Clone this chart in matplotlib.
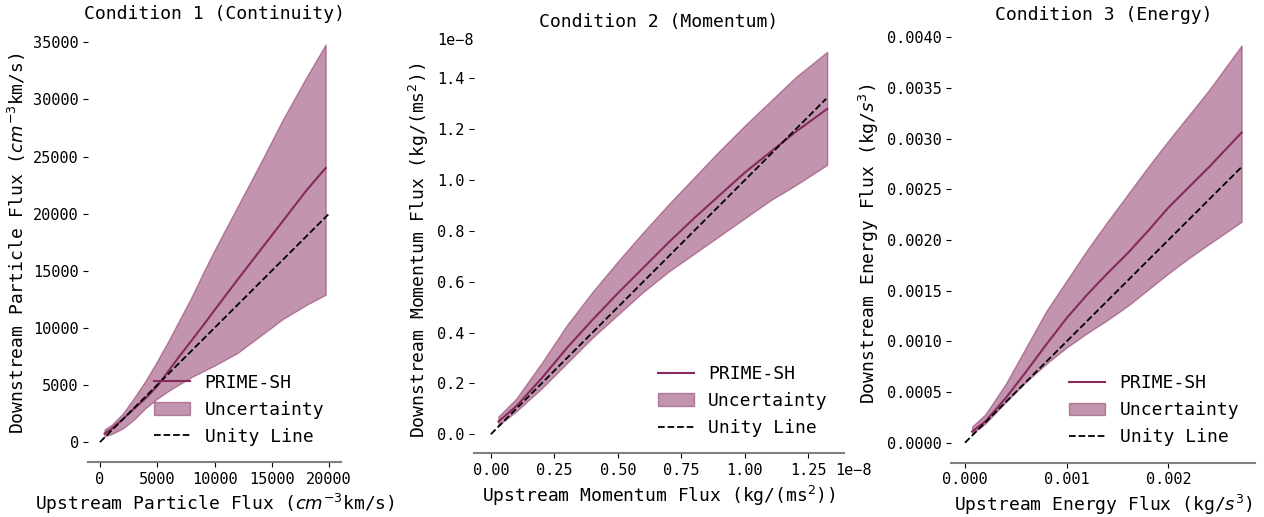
import matplotlib

matplotlib.use("Agg")
import matplotlib.pyplot as plt
import numpy as np
from matplotlib.ticker import MultipleLocator

plt.rcParams["font.family"] = "DejaVu Sans Mono"

COLOR = "#862a5e"

# --- Condition 1 (Continuity) ---
c1_x = [400, 1000, 2000, 3000, 4000, 5000, 6000, 7000, 8000, 9000, 10000,
        12000, 14000, 16000, 18000, 19700]
c1_mean = [750, 1150, 2000, 2950, 3850, 4900, 6250, 7600, 8900, 10200, 11550,
           14200, 16800, 19400, 22000, 24000]
c1_upper = [1100, 1500, 2500, 3900, 5400, 7100, 8900, 10800, 12700, 14800, 16800,
            20600, 24400, 28300, 31900, 34800]
c1_lower = [500, 700, 1200, 2000, 3000, 3800, 4500, 5100, 5700, 6200, 6700,
            7800, 9300, 10800, 12000, 12900]
c1_unity = [0, 20000]

# --- Condition 2 (Momentum), values in units of 1e-8 ---
c2_x = [0.03, 0.1, 0.2, 0.3, 0.4, 0.5, 0.6, 0.7, 0.8, 0.9, 1.0, 1.1, 1.2, 1.324]
c2_mean = [0.05, 0.11, 0.22, 0.34, 0.45, 0.555, 0.655, 0.755, 0.85, 0.94, 1.03, 1.11, 1.19, 1.28]
c2_upper = [0.07, 0.14, 0.28, 0.43, 0.56, 0.68, 0.795, 0.905, 1.01, 1.115, 1.215, 1.31, 1.405, 1.505]
c2_lower = [0.035, 0.09, 0.18, 0.28, 0.38, 0.47, 0.56, 0.64, 0.71, 0.78, 0.85, 0.92, 0.98, 1.06]
c2_unity = [0.0, 1.32]

# --- Condition 3 (Energy) ---
c3_x = [0.00007, 0.0002, 0.0004, 0.0006, 0.0008, 0.001, 0.0012, 0.0014, 0.0016,
        0.0018, 0.002, 0.0022, 0.0024, 0.00272]
c3_mean = [0.00011, 0.00021, 0.00044, 0.0007, 0.00097, 0.00123, 0.00146, 0.00167,
           0.00187, 0.00209, 0.00232, 0.00252, 0.00272, 0.00306]
c3_upper = [0.00016, 0.00028, 0.00058, 0.00094, 0.0013, 0.0016, 0.0019, 0.00218,
            0.00245, 0.00272, 0.00298, 0.00323, 0.00348, 0.00392]
c3_lower = [0.00009, 0.00019, 0.0004, 0.0006, 0.00078, 0.00094, 0.00108, 0.00121,
            0.00135, 0.00151, 0.00167, 0.00182, 0.00196, 0.00218]
c3_unity = [0.0, 0.00272]

panels = [
    dict(x=c1_x, mean=c1_mean, up=c1_upper, lo=c1_lower, unity=c1_unity,
         title="Condition 1 (Continuity)",
         xlabel=r"Upstream Particle Flux ($cm^{-3}$km/s)",
         ylabel=r"Downstream Particle Flux ($cm^{-3}$km/s)",
         pos=[0.0700, 0.1064, 0.1994, 0.8458], pad=4),
    dict(x=c2_x, mean=c2_mean, up=c2_upper, lo=c2_lower, unity=c2_unity,
         title="Condition 2 (Momentum)",
         xlabel=r"Upstream Momentum Flux (kg/(ms$^2$))",
         ylabel=r"Downstream Momentum Flux (kg/(ms$^2$))",
         pos=[0.3750, 0.1232, 0.2927, 0.7840], pad=15),
    dict(x=c3_x, mean=c3_mean, up=c3_upper, lo=c3_lower, unity=c3_unity,
         title="Condition 3 (Energy)",
         xlabel=r"Upstream Energy Flux (kg/$s^3$)",
         ylabel=r"Downstream Energy Flux (kg/$s^3$)",
         pos=[0.7525, 0.1052, 0.2407, 0.8453], pad=4),
]

fig = plt.figure(figsize=(12.64, 5.17), dpi=100)

for i, p in enumerate(panels):
    ax = fig.add_axes(p["pos"])
    ax.plot(p["x"], p["mean"], color=COLOR, lw=1.5, label="PRIME-SH")
    ax.fill_between(p["x"], p["lo"], p["up"], color=COLOR, alpha=0.5,
                    label="Uncertainty")
    ax.plot(p["unity"], p["unity"], "k--", lw=1.3, label="Unity Line")

    if i == 1:
        # momentum values are in units of 1e-8; the scale labels are written out
        ax.set_ylim(-0.075, 1.52)
        ax.xaxis.set_major_locator(MultipleLocator(0.25))
        ax.text(0, 1, "1e\u22128", transform=ax.transAxes, ha="right", va="bottom",
                fontsize=11)
        ax.annotate("1e\u22128", xy=(1, 0), xycoords="axes fraction",
                    xytext=(-6.5, -7), textcoords="offset points",
                    ha="left", va="top", fontsize=11)
    if i == 2:
        ax.xaxis.set_major_locator(MultipleLocator(0.001))

    ax.set_title(p["title"], fontsize=13, pad=p["pad"])
    ax.set_xlabel(p["xlabel"], fontsize=13)
    ax.set_ylabel(p["ylabel"], fontsize=13)
    ax.tick_params(labelsize=11, length=3.5)
    for side in ["left", "top", "right"]:
        ax.spines[side].set_visible(False)
    ax.spines["bottom"].set_color("#808080")
    ax.spines["bottom"].set_linewidth(1.5)
    ax.legend(loc="lower right", frameon=False, fontsize=13)

fig.savefig("out.png", dpi=100)
